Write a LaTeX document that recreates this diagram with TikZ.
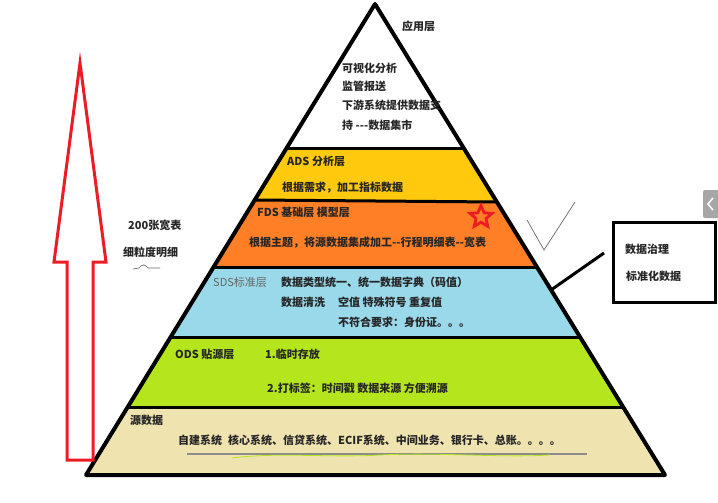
\documentclass[tikz,border=0pt]{standalone}
\usepackage{fontspec}
\setmainfont{Noto Sans CJK SC}
\usetikzlibrary{shapes.geometric}
\definecolor{adsyellow}{HTML}{FFC90E}
\definecolor{fdsorange}{HTML}{FF7F27}
\definecolor{sdsblue}{HTML}{99D9EA}
\definecolor{odsgreen}{HTML}{B5E61D}
\definecolor{srcbeige}{HTML}{EFE4B0}
\definecolor{paintred}{HTML}{ED1C24}

\begin{document}
\begin{tikzpicture}[x=1pt, y=-1pt,
  every node/.style={font=\fontsize{11}{13}\selectfont\bfseries, text=black!85, inner sep=0pt, anchor=west},
  divider/.style={line width=3pt},
  plainlbl/.style={font=\fontsize{11}{13}\selectfont, text=black!60}]
\useasboundingbox (0,0) rectangle (718,503);

% layers of the pyramid
\fill[adsyellow]  (286.6,148) -- (463.7,148) -- (496.9,202) -- (254.7,200) -- cycle;
\fill[fdsorange]  (254.7,200) -- (496.9,202) -- (536.9,267) -- (213.6,267) -- cycle;
\fill[sdsblue]    (213.6,267) -- (536.9,267) -- (580.0,337) -- (170.7,337) -- cycle;
\fill[odsgreen]   (170.7,337) -- (580.0,337) -- (623.1,407) -- (127.7,407) -- cycle;
\fill[srcbeige]   (127.7,407) -- (623.1,407) -- (665,475) -- (86,475) -- cycle;
\draw[divider] (286.6,148) -- (463.7,148);
\draw[divider] (254.7,200) -- (496.9,202);
\draw[divider] (213.6,267) -- (536.9,267);
\draw[divider] (170.7,337) -- (580.0,337);
\draw[divider] (127.7,407) -- (623.1,407);
\coordinate (apex) at (375,4);
\draw[line width=4pt, line join=round] (apex) -- (665,475) -- (86,475) -- cycle;

% texts
\node (app) at (402,26) {应用层};
\node (vis) at (342,68) {可视化分析};
\node (sup) at (342,86) {监管报送};
\node (feed) at (342,105) {下游系统提供数据支};
\node (mart) at (342,125) {持 {-}{-}{-}数据集市};
\node (adsname) at (287,161) {ADS 分析层};
\node (adsdesc) at (282,188) {根据需求，加工指标数据};
\node (fdsname) at (257,212) {FDS 基础层 模型层};
\node[star, star points=5, star point ratio=2.2, draw=paintred, line width=2.8pt, minimum size=23pt, anchor=center] (star) at (481,217) {};
\node (fdsdesc) at (249,243) {根据主题，将源数据集成加工{-}{-}行程明细表{-}{-}宽表};
\node[plainlbl] (sdsname) at (213,282) {SDS标准层};
\node (sdsunify) at (281,282) {数据类型统一、统一数据字典（码值）};
\node (sdsclean) at (281,302) {数据清洗};
\node (sdsnull) at (338,302) {空值 特殊符号 重复值};
\node (sdsid) at (338,322) {不符合要求：身份证。。。};
\node (odsname) at (175,354) {ODS 贴源层};
\node (odstemp) at (265,354) {1.临时存放};
\node (odstag) at (267,388) {2.打标签：时间戳 数据来源 方便溯源};
\node (srcname) at (130,420) {源数据};
\node (srclist) at (178,440) {自建系统\hspace{6pt}核心系统、信贷系统、ECIF系统、中间业务、银行卡、总账。。。。};
\draw[black!45, line width=1.5pt] (187,454) -- (587,454);
\draw[odsgreen, line width=0.8pt] (232,458) .. controls (280,452) and (330,458) .. (380,455) .. controls (440,452) and (500,458) .. (550,455);

% grain arrow on the left
\draw[paintred, line width=3pt, fill=white, line join=miter] (80,63) -- (106,262) -- (93,262) -- (93,460) -- (67,460) -- (67,262) -- (54,262) -- cycle;
\node (wide) at (128,225) {200张宽表};
\node (grain) at (123,252) {细粒度明细};
\draw[black!60, line width=0.7pt] (133,269) -- (139,268) .. controls (142,264) and (145,264) .. (148,268) -- (160,268);

% data governance box
\node[draw, line width=3pt, minimum width=102pt, minimum height=80pt, anchor=center] (govbox) at (664,262) {};
\node (govern) at (625,249) {数据治理};
\node (stdize) at (626,276) {标准化数据};
\coordinate (sdsedge) at (551,290);
\coordinate (govend) at (604,253);
\draw[line width=3pt] (sdsedge) -- (govend);
\draw[black!60, line width=0.7pt] (527,220) -- (544,250) -- (575,202);

% side tab
\fill[gray!70, rounded corners=2pt] (703,190) rectangle (724,218);
\draw[white, line width=1.5pt] (713,198) -- (708,204) -- (713,210);
\end{tikzpicture}
\end{document}
